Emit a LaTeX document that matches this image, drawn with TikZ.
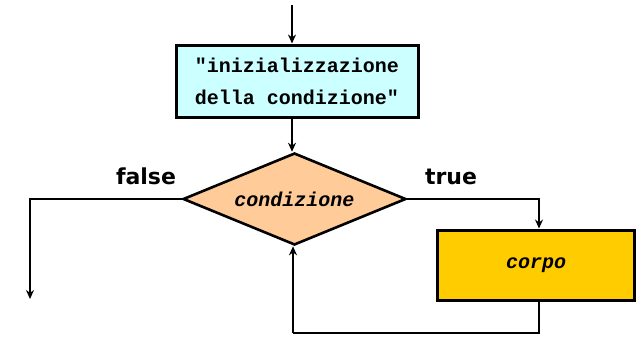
\documentclass[tikz,border=0pt]{standalone}
\usepackage{fontspec}
\setmonofont{Liberation Mono}
\newfontfamily\lblfont{DejaVu Sans}
\usetikzlibrary{shapes.geometric,arrows.meta}
\definecolor{initc}{HTML}{CCFFFF}
\definecolor{condc}{HTML}{FFCC99}
\definecolor{corpoc}{HTML}{FFCC00}
\tikzset{
  flow/.style={line width=2.6pt,-{Stealth[length=9pt,width=8pt]}},
  plainline/.style={line width=2.6pt},
  boxst/.style={draw,line width=3pt,inner sep=0pt},
  lbl/.style={font=\lblfont\bfseries\fontsize{22}{24}\selectfont,inner sep=0pt}
}
\begin{document}
\begin{tikzpicture}[x=1pt,y=-1pt]
\useasboundingbox (0,0) rectangle (636,338);
\node[boxst,fill=initc,minimum width=242pt,minimum height=72pt,align=center,
  font=\ttfamily\bfseries\fontsize{20}{32}\selectfont] (init) at (297,81)
  {"inizializzazione\\della condizione"};
\node[diamond,aspect=2.42,draw,line width=2.6pt,fill=condc,inner sep=0pt,minimum width=223pt,minimum height=92pt,
  font=\ttfamily\bfseries\itshape\fontsize{20}{22}\selectfont] (d) at (294.5,199) {condizione};
\node[boxst,fill=corpoc,minimum width=197pt,minimum height=70pt,
  font=\ttfamily\bfseries\itshape\fontsize{20}{22}\selectfont] (c) at (536,265) {corpo};
\node[lbl,anchor=base] (f) at (146,184) {false};
\node[lbl,anchor=base] (t) at (451,184) {true};
\coordinate (top) at (292,5);
\coordinate (fe) at (30,299);
\coordinate (lb) at (293,333);
\draw[flow] (top) -- (top |- init.north);
\draw[flow] (init.south -| top) -- (d.north -| top);
\draw[flow] (d.west) -| (fe);
\draw[flow] (d.east) -| ([xshift=3pt]c.north);
\draw[plainline] ([xshift=3pt]c.south) |- (lb);
\draw[flow] (lb) -- (d.south -| lb);
\end{tikzpicture}
\end{document}
